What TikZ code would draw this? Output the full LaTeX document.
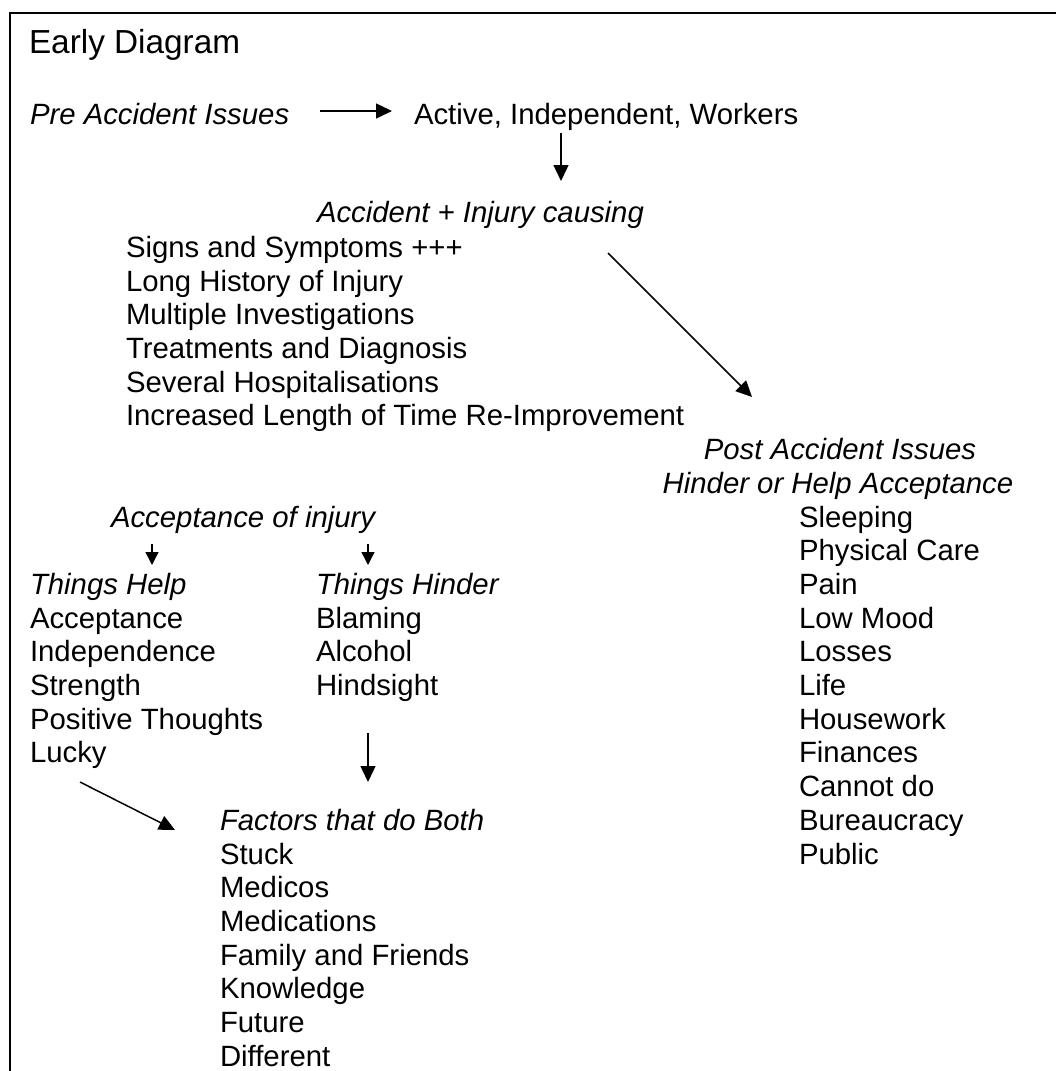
\documentclass[tikz,border=0pt]{standalone}
\usepackage{fontspec}
\setmainfont{Liberation Sans}
\usetikzlibrary{arrows.meta}
\begin{document}
\begin{tikzpicture}[x=0.75pt,y=-0.75pt,
  txt/.style={anchor=base west,inner sep=0pt,outer sep=0pt,font=\fontsize{22}{25.5}\selectfont},
  head/.style={txt,font=\fontsize{22}{25.5}\selectfont\itshape},
  arr/.style={-{Triangle[length=12pt,width=11.25pt]},line width=1.1pt},
  smallarr/.style={-{Triangle[length=9.75pt,width=9.75pt]},line width=1.1pt},
  frame/.style={line width=1.5pt}]
\useasboundingbox (0,0) rectangle (1056,1071);
% open frame running off the page to the right and bottom
\begin{scope}
  \clip (0,0) rectangle (1056,1071);
  \draw[frame] (10,1100) -- (10,13) -- (1100,13);
\end{scope}

\node[txt,font=\fontsize{25}{29}\selectfont] (title) at (29,53) {Early Diagram};
\node[head] (pre) at (30,124) {Pre Accident Issues};
\node[txt] (active) at (414,124) {Active, Independent, Workers};
\node[head] (accident) at (317,222) {Accident + Injury causing};
\foreach \t [count=\i from 0] in {Signs and Symptoms +++, Long History of Injury,
    Multiple Investigations, Treatments and Diagnosis, Several Hospitalisations,
    Increased Length of Time Re-Improvement}
  \node[txt] (sym\i) at (126,{257.4+33.7*\i}) {\t};

\node[head,anchor=base] (post) at (840,459.6) {Post Accident Issues};
\node[head,anchor=base] (hinderhelp) at (838,493.3) {Hinder or Help Acceptance};
\foreach \t [count=\i from 0] in {Sleeping, Physical Care, Pain, Low Mood, Losses,
    Life, Housework, Finances, Cannot do, Bureaucracy, Public}
  \node[txt] (post\i) at (799,{527+33.7*\i}) {\t};

\node[head] (accept) at (111,527) {Acceptance of injury};
\node[head] (helps) at (30,594.4) {Things Help};
\foreach \t [count=\i from 0] in {Acceptance, Independence, Strength,
    Positive Thoughts, Lucky}
  \node[txt] (help\i) at (30,{628.1+33.7*\i}) {\t};
\node[head] (hinders) at (316,594.4) {Things Hinder};
\foreach \t [count=\i from 0] in {Blaming, Alcohol, Hindsight}
  \node[txt] (hind\i) at (316,{628.1+33.7*\i}) {\t};

\node[head] (both) at (220,830.3) {Factors that do Both};
\foreach \t [count=\i from 0] in {Stuck, Medicos, Medications, Family and Friends,
    Knowledge, Future, Different}
  \node[txt] (both\i) at (220,{864+33.7*\i}) {\t};

% arrow ends
\coordinate (preS) at (320,111);   \coordinate (preE) at (392,111);
\coordinate (actS) at (561,133);   \coordinate (actE) at (561,181);
\coordinate (accS) at (608,253);   \coordinate (accE) at (752,397);
\coordinate (helpS) at (152,544);  \coordinate (helpE) at (152,565);
\coordinate (hindS) at (368,544);  \coordinate (hindE) at (368,565);
\coordinate (hsS) at (368,733);    \coordinate (hsE) at (368,782);
\coordinate (luS) at (80,782);     \coordinate (luE) at (175,830);

\draw[arr] (preS) -- (preE);
\draw[arr] (actS) -- (actE);
\draw[arr] (accS) -- (accE);
\draw[smallarr] (helpS) -- (helpE);
\draw[smallarr] (hindS) -- (hindE);
\draw[arr] (hsS) -- (hsE);
\draw[arr] (luS) -- (luE);
\end{tikzpicture}
\end{document}
